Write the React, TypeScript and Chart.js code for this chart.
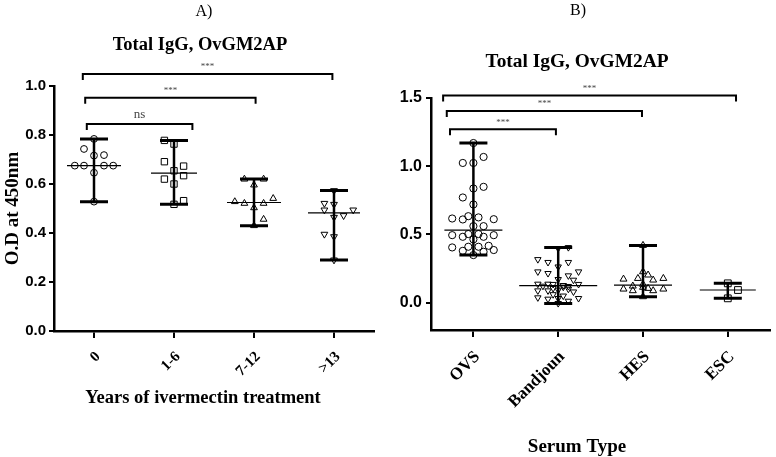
import { useEffect, useRef } from "react";
import { Chart, registerables } from "chart.js";

Chart.register(...registerables);

const SERIF = '"Liberation Serif", "Times New Roman", serif';
const SANS = '"Liberation Sans", Arial, sans-serif';

// ---------------- Panel A data ----------------
const letterA = "A)";
const titleA = "Total IgG, OvGM2AP";
const categoriesA = ["0", "1-6", "7-12", ">13"];
const yTicksA = [0, 0.2, 0.4, 0.6, 0.8, 1.0];
const yTitleA = "O.D at 450nm";
const xTitleA = "Years of ivermectin treatment";

const a0Values = [0.784, 0.743, 0.716, 0.718, 0.675, 0.675, 0.675, 0.675, 0.646, 0.528];
const a0Jitter = [0, -0.125, 0, 0.125, -0.24, -0.125, 0.125, 0.24, 0, 0];
const a1Values = [0.778, 0.763, 0.691, 0.673, 0.654, 0.62, 0.634, 0.6, 0.517, 0.532];
const a1Jitter = [-0.12, 0, -0.12, 0.12, 0, -0.12, 0.12, 0, 0, 0.12];
const a2Values = [0.62, 0.62, 0.596, 0.528, 0.521, 0.503, 0.521, 0.541, 0.456, 0.43];
const a2Jitter = [-0.12, 0.12, 0, -0.24, -0.12, 0, 0.12, 0.24, 0.12, 0];
const a3Values = [0.573, 0.521, 0.517, 0.494, 0.464, 0.471, 0.494, 0.395, 0.385, 0.29];
const a3Jitter = [0, -0.12, 0, -0.12, 0, 0.12, 0.24, -0.12, 0, 0];

const bracketsAFrom = [-0.09, -0.11, -0.14];
const bracketsATo = [1.23, 2.02, 2.98];
const bracketsAY = [0.845, 0.952, 1.049];
const bracketsALabel = ["ns", "***", "***"];

// ---------------- Panel B data ----------------
const letterB = "B)";
const titleB = "Total IgG, OvGM2AP";
const categoriesB = ["OVS", "Bandjoun", "HES", "ESC"];
const yTicksB = [0, 0.5, 1.0, 1.5];
const xTitleB = "Serum Type";

const ovsValues = [
  1.17, 1.068, 1.024, 1.024, 0.849, 0.837, 0.771, 0.72, 0.617, 0.61, 0.634, 0.625, 0.612, 0.561, 0.561,
  0.495, 0.483, 0.503, 0.503, 0.483, 0.495, 0.464, 0.405, 0.38, 0.41, 0.41, 0.417, 0.386, 0.349, 0.373,
];
const ovsJitter = [
  0, 0.12, -0.125, 0, 0.12, 0, -0.125, 0, -0.25, -0.125, -0.06, 0.06, 0.24, 0, 0.12,
  -0.25, -0.125, -0.06, 0.06, 0.12, 0.24, 0, -0.25, -0.125, -0.06, 0.06, 0.18, 0.24, 0, 0.12,
];
const bandjounValues = [
  0.405, 0.398, 0.317, 0.296, 0.296, 0.263, 0.227, 0.215, 0.227, 0.198, 0.171, 0.166, 0.137, 0.137, 0.135,
  0.122, 0.135, 0.127, 0.088, 0.088, 0.093, 0.1, 0.08, 0.037, 0.027, 0.032, 0.032, 0.012, -0.005, 0.115,
  0.105, 0.12, 0.06, 0.05,
];
const bandjounJitter = [
  0.12, 0, -0.24, -0.12, 0.12, 0, -0.24, -0.12, 0.24, 0.12, 0, 0.18, -0.24, -0.12, 0.24,
  -0.18, -0.06, 0.06, -0.24, -0.12, 0, 0.12, 0.18, -0.24, -0.12, 0, 0.24, 0.12, 0, 0.06,
  -0.06, 0.12, -0.06, 0.06,
];
const hesValues = [0.42, 0.227, 0.203, 0.178, 0.178, 0.173, 0.166, 0.135, 0.122, 0.113, 0.105, 0.1, 0.1, 0.088, 0.088, 0.044];
const hesJitter = [0, 0, 0.06, -0.06, 0.24, -0.23, 0.12, 0, -0.12, 0, 0.06, -0.23, 0.24, -0.12, 0.12, 0];
const escValues = [0.142, 0.093, 0.032];
const escJitter = [0, 0.12, 0];

const bracketsBFrom = [-0.276, -0.314, -0.357];
const bracketsBTo = [0.973, 1.988, 3.097];
const bracketsBY = [1.271, 1.405, 1.519];
const bracketsBLabel = ["***", "***", "***"];

// ---------------- helpers ----------------
function median(arr: number[]) {
  const s = [...arr].sort((a, b) => a - b);
  const n = s.length;
  return n % 2 ? s[(n - 1) / 2] : (s[n / 2 - 1] + s[n / 2]) / 2;
}

type Group = { values: number[]; jitter: number[]; style: string; rotation: number; radius: number; medHalf: number };

type PanelCfg = {
  left: number;
  width: number;
  height: number;
  padTop: number;
  padRight: number;
  padBottom: number;
  yAxisWidth: number;
  xAxisHeight: number;
  yMin: number;
  yMax: number;
  yTicks: number[];
  categories: string[];
  groups: Group[];
  yTitle?: string;
  yTitleSize: number;
  xTitle: string;
  xTitleSize: number;
  xTitleX: number;
  xTitleY: number;
  xTickSize: number;
  yTickSize: number;
  yTickPad: number;
  letter: string;
  letterX: number;
  letterY: number;
  title: string;
  titleX: number;
  titleY: number;
  titleSize: number;
  bFrom: number[];
  bTo: number[];
  bY: number[];
  bLabel: string[];
  capHalf: number;
};

function makeDecor(cfg: PanelCfg) {
  return {
    id: "decor",
    beforeDatasetsDraw(chart: any) {
      const { ctx } = chart;
      const x = chart.scales.x;
      const y = chart.scales.y;
      ctx.save();
      ctx.strokeStyle = "#000";
      cfg.groups.forEach((g, i) => {
        const lo = Math.min(...g.values);
        const hi = Math.max(...g.values);
        const med = median(g.values);
        const px = x.getPixelForValue(i);
        const pLo = y.getPixelForValue(lo);
        const pHi = y.getPixelForValue(hi);
        const pMed = y.getPixelForValue(med);
        ctx.lineWidth = 2.5;
        ctx.beginPath();
        ctx.moveTo(px, pLo);
        ctx.lineTo(px, pHi);
        ctx.stroke();
        ctx.lineWidth = 3;
        ctx.beginPath();
        ctx.moveTo(px - cfg.capHalf, pLo);
        ctx.lineTo(px + cfg.capHalf, pLo);
        ctx.moveTo(px - cfg.capHalf, pHi);
        ctx.lineTo(px + cfg.capHalf, pHi);
        ctx.stroke();
        ctx.lineWidth = 1.2;
        ctx.beginPath();
        ctx.moveTo(px - g.medHalf, pMed);
        ctx.lineTo(px + g.medHalf, pMed);
        ctx.stroke();
      });
      ctx.restore();
    },
    afterDraw(chart: any) {
      const { ctx } = chart;
      const x = chart.scales.x;
      const y = chart.scales.y;
      ctx.save();
      ctx.fillStyle = "#000";
      ctx.textAlign = "center";
      ctx.textBaseline = "middle";
      ctx.font = `16px ${SERIF}`;
      ctx.fillText(cfg.letter, cfg.letterX, cfg.letterY);
      ctx.font = `bold ${cfg.titleSize}px ${SERIF}`;
      ctx.fillText(cfg.title, cfg.titleX, cfg.titleY);
      ctx.font = `bold ${cfg.xTitleSize}px ${SERIF}`;
      ctx.fillText(cfg.xTitle, cfg.xTitleX, cfg.xTitleY);
      // brackets
      ctx.strokeStyle = "#000";
      ctx.lineWidth = 2;
      cfg.bFrom.forEach((f, i) => {
        const x1 = x.getPixelForValue(f);
        const x2 = x.getPixelForValue(cfg.bTo[i]);
        const py = y.getPixelForValue(cfg.bY[i]);
        ctx.beginPath();
        ctx.moveTo(x1, py + 6);
        ctx.lineTo(x1, py);
        ctx.lineTo(x2, py);
        ctx.lineTo(x2, py + 6);
        ctx.stroke();
        const lab = cfg.bLabel[i];
        ctx.fillStyle = "#444";
        ctx.font = lab === "ns" ? `13px ${SERIF}` : `9px ${SERIF}`;
        ctx.fillText(lab, (x1 + x2) / 2, py - (lab === "ns" ? 9 : 7));
      });
      ctx.restore();
    },
  };
}

function buildConfig(cfg: PanelCfg): any {
  const datasets = cfg.groups.map((g, i) => ({
    data: g.values.map((v, k) => ({ x: i + g.jitter[k], y: v })),
    pointStyle: g.style,
    pointRotation: g.rotation,
    pointRadius: g.radius,
    pointBorderWidth: 1,
    pointBorderColor: "#000",
    pointBackgroundColor: "rgba(0,0,0,0)",
    showLine: false,
  }));
  return {
    type: "scatter",
    data: { datasets },
    plugins: [makeDecor(cfg)],
    options: {
      responsive: false,
      animation: false,
      devicePixelRatio: 1,
      layout: { padding: { top: cfg.padTop, right: cfg.padRight, bottom: cfg.padBottom, left: 0 } },
      plugins: { legend: { display: false }, tooltip: { enabled: false } },
      scales: {
        x: {
          type: "linear",
          min: -0.5,
          max: 3.5,
          afterBuildTicks: (s: any) => {
            s.ticks = cfg.categories.map((_, i) => ({ value: i }));
          },
          afterFit: (s: any) => {
            s.height = cfg.xAxisHeight;
          },
          ticks: {
            callback: (v: number) => cfg.categories[Math.round(v)],
            minRotation: 45,
            maxRotation: 45,
            autoSkip: false,
            padding: 10,
            labelOffset: 4,
            color: "#000",
            font: { family: SERIF, size: cfg.xTickSize, weight: "bold" },
          },
          grid: { display: true, drawOnChartArea: false, drawTicks: true, tickLength: 7, lineWidth: 2, color: "#000" },
          border: { display: true, color: "#000", width: 2.5 },
          title: { display: false },
        },
        y: {
          type: "linear",
          min: cfg.yMin,
          max: cfg.yMax,
          afterBuildTicks: (s: any) => {
            s.ticks = cfg.yTicks.map((v) => ({ value: v }));
          },
          afterFit: (s: any) => {
            s.width = cfg.yAxisWidth;
          },
          ticks: {
            callback: (v: number) => v.toFixed(1),
            padding: cfg.yTickPad,
            color: "#000",
            font: { family: SANS, size: cfg.yTickSize, weight: "bold" },
          },
          grid: { display: true, drawOnChartArea: false, drawTicks: true, tickLength: 5, lineWidth: 2, color: "#000" },
          border: { display: true, color: "#000", width: 2.5 },
          title: {
            display: !!cfg.yTitle,
            text: cfg.yTitle || "",
            color: "#000",
            padding: { top: 2, bottom: 0 },
            font: { family: SERIF, size: cfg.yTitleSize, weight: "bold" },
          },
        },
      },
    },
  };
}

const panelA: PanelCfg = {
  left: 0,
  width: 390,
  height: 457,
  padTop: 86,
  padRight: 16,
  padBottom: 49,
  yAxisWidth: 54,
  xAxisHeight: 77,
  yMin: 0,
  yMax: 1.0,
  yTicks: yTicksA,
  categories: categoriesA,
  groups: [
    { values: a0Values, jitter: a0Jitter, style: "circle", rotation: 0, radius: 3.4, medHalf: 27 },
    { values: a1Values, jitter: a1Jitter, style: "rect", rotation: 0, radius: 4.5, medHalf: 23 },
    { values: a2Values, jitter: a2Jitter, style: "triangle", rotation: 0, radius: 3.9, medHalf: 27 },
    { values: a3Values, jitter: a3Jitter, style: "triangle", rotation: 180, radius: 3.9, medHalf: 26 },
  ],
  yTitle: yTitleA,
  yTitleSize: 19,
  xTitle: xTitleA,
  xTitleSize: 18.5,
  xTitleX: 203,
  xTitleY: 398,
  xTickSize: 15,
  yTickSize: 15,
  yTickPad: 3,
  letter: letterA,
  letterX: 204,
  letterY: 12,
  title: titleA,
  titleX: 200,
  titleY: 45,
  titleSize: 18.5,
  bFrom: bracketsAFrom,
  bTo: bracketsATo,
  bY: bracketsAY,
  bLabel: bracketsALabel,
  capHalf: 14,
};

const panelB: PanelCfg = {
  left: 390,
  width: 386,
  height: 457,
  padTop: 98,
  padRight: 2,
  padBottom: 0,
  yAxisWidth: 41,
  xAxisHeight: 127,
  yMin: -0.2,
  yMax: 1.5,
  yTicks: yTicksB,
  categories: categoriesB,
  groups: [
    { values: ovsValues, jitter: ovsJitter, style: "circle", rotation: 0, radius: 3.6, medHalf: 29 },
    { values: bandjounValues, jitter: bandjounJitter, style: "triangle", rotation: 180, radius: 3.7, medHalf: 39 },
    { values: hesValues, jitter: hesJitter, style: "triangle", rotation: 0, radius: 4, medHalf: 29 },
    { values: escValues, jitter: escJitter, style: "rect", rotation: 0, radius: 4.8, medHalf: 28 },
  ],
  yTitleSize: 18,
  xTitle: xTitleB,
  xTitleSize: 19,
  xTitleX: 187,
  xTitleY: 447,
  xTickSize: 17,
  yTickSize: 16,
  yTickPad: 4,
  letter: letterB,
  letterX: 188,
  letterY: 11,
  title: titleB,
  titleX: 187,
  titleY: 62,
  titleSize: 19.4,
  bFrom: bracketsBFrom,
  bTo: bracketsBTo,
  bY: bracketsBY,
  bLabel: bracketsBLabel,
  capHalf: 14,
};

function Panel({ cfg }: { cfg: PanelCfg }) {
  const ref = useRef<HTMLCanvasElement | null>(null);
  useEffect(() => {
    if (!ref.current) return;
    const chart = new Chart(ref.current, buildConfig(cfg));
    return () => chart.destroy();
  }, [cfg]);
  return (
    <canvas
      ref={ref}
      width={cfg.width}
      height={cfg.height}
      style={{ position: "absolute", left: cfg.left, top: 0, width: cfg.width, height: cfg.height }}
    />
  );
}

export default function App() {
  return (
    <div style={{ position: "absolute", left: 0, top: 0, width: 776, height: 457, background: "#fff", overflow: "hidden" }}>
      <Panel cfg={panelA} />
      <Panel cfg={panelB} />
    </div>
  );
}
